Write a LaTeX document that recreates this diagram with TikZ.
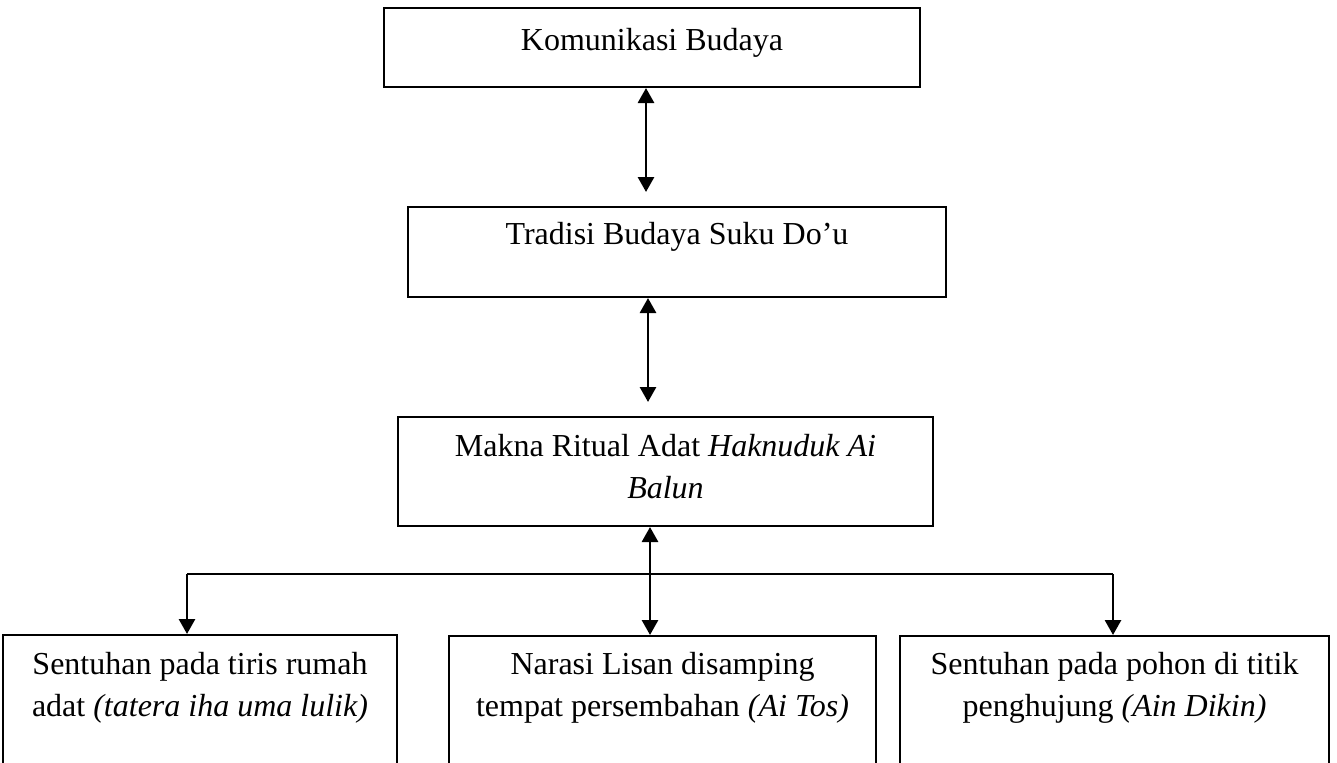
\documentclass[tikz,border=0pt]{standalone}
\usepackage{fontspec}
\setmainfont{Liberation Serif}
\usetikzlibrary{arrows.meta}
\begin{document}
\begin{tikzpicture}[x=0.5pt,y=-0.5pt,
  box/.style={draw, line width=1pt, inner sep=0pt},
  lbl/.style={font=\fontsize{16}{21}\selectfont, align=center, inner sep=0pt},
  tip/.tip={Triangle[length=7.5pt,width=8pt]},
  arr/.style={line width=1.4pt, tip-tip},
  darr/.style={line width=1.4pt, -tip},
]
\useasboundingbox (0,0) rectangle (1337,762);
\fill[white] (0,0) rectangle (1337,762);
% boxes
\node[box, minimum width=268pt, minimum height=39.5pt] (b1) at (652,47.5) {};
\node[box, minimum width=269pt, minimum height=45pt] (b2) at (677,252) {};
\node[box, minimum width=267.5pt, minimum height=54.5pt] (b3) at (665.5,471.5) {};
\node[box, minimum width=197pt, minimum height=82pt] (bl) at (200,717) {};
\node[box, minimum width=213.5pt, minimum height=82pt] (bm) at (662.5,718) {};
\node[box, minimum width=214.5pt, minimum height=82pt] (br) at (1114.5,718) {};
% texts
\node[lbl] (t1) at (652,43) {Komunikasi Budaya};
\node[lbl] (t2) at (677,237) {Tradisi Budaya Suku Do’u};
\node[lbl] (t3) at (665.5,466.5) {Makna Ritual Adat \textit{Haknuduk Ai}\\\textit{Balun}};
\node[lbl] (tl) at (200,688) {Sentuhan pada tiris rumah\\adat \textit{(tatera iha uma lulik)}};
\node[lbl] (tm) at (662.5,688) {Narasi Lisan disamping\\tempat persembahan \textit{(Ai Tos)}};
\node[lbl] (tr) at (1114.5,688) {Sentuhan pada pohon di titik\\penghujung \textit{(Ain Dikin)}};
% connectors
\coordinate (x1) at (646,0);
\coordinate (x2) at (648,0);
\coordinate (x3) at (650,0);
\draw[arr, shorten >=7pt] (b1.south -| x1) -- (b2.north -| x1);
\draw[arr, shorten >=7pt] (b2.south -| x2) -- (b3.north -| x2);
\draw[arr] (b3.south -| x3) -- (bm.north -| x3);
\coordinate (hl) at (187,574);
\coordinate (hr) at (1113,574);
\draw[line width=1pt] (hl) -- (hr);
\draw[darr] (hl) -- (hl |- bl.north);
\draw[darr] (hr) -- (hr |- br.north);
\end{tikzpicture}
\end{document}
